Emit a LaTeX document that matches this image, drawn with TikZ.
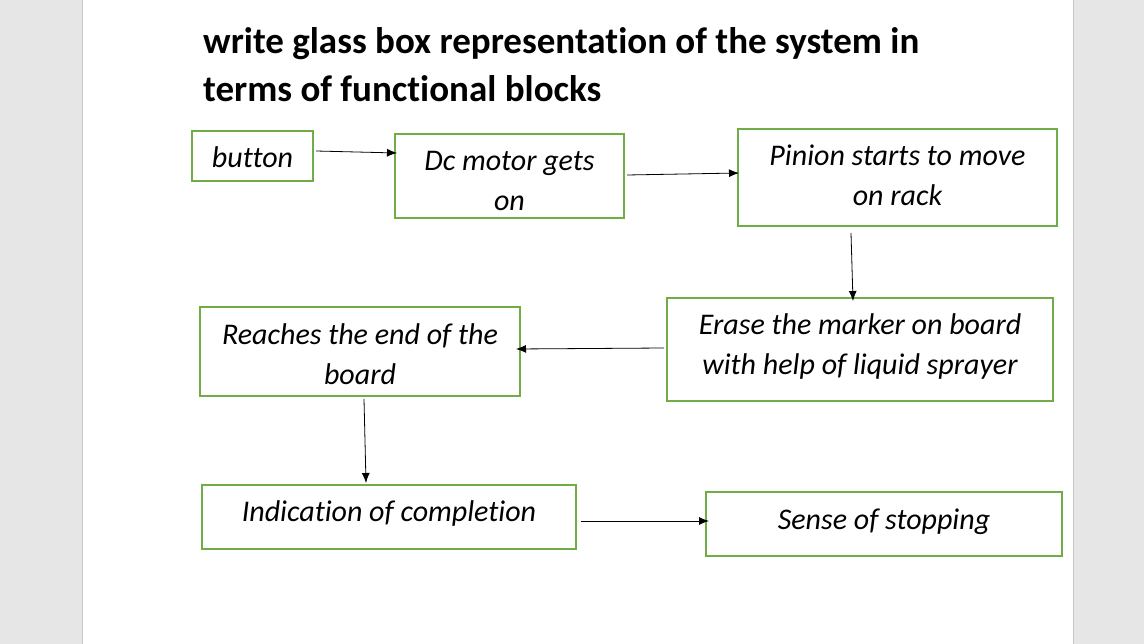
\documentclass[tikz,border=0pt]{standalone}
\usepackage{fontspec}
\setmainfont[Ligatures=NoCommon]{Carlito}
\usetikzlibrary{arrows.meta}
\definecolor{boxgreen}{HTML}{70AD47}
\definecolor{pagegray}{HTML}{E6E6E6}
\definecolor{edgegray}{HTML}{C6C6C6}
\begin{document}
\begin{tikzpicture}[x=1pt,y=-1pt,
  fbox/.style={draw=boxgreen,line width=2pt,inner sep=0pt},
  ftxt/.style={inner sep=0pt,align=center,font=\fontsize{30}{40}\selectfont\itshape},
  arr/.style={-{Latex[length=10pt,width=8pt]},line width=0.8pt,black},
  ttl/.style={anchor=base west,inner sep=0pt,font=\fontsize{37}{44}\selectfont\bfseries}]
\useasboundingbox (0,0) rectangle (1144,644);
\fill[pagegray] (0,0) rectangle (1144,644);
\fill[white] (82,0) rectangle (1073,644);
\draw[edgegray,line width=1pt] (82,0) -- (82,644) (1073,0) -- (1073,644);
% title
\node[ttl] (t1) at (203,54) {write glass box representation of the system in};
\node[ttl] (t2) at (203,102) {terms of functional blocks};
% boxes
\node[fbox,minimum width=121pt,minimum height=50pt] (btn) at (252.5,156) {};
\node[ftxt] (btnT) at (252.5,157) {button};
\node[fbox,minimum width=229pt,minimum height=84pt] (dc) at (509.5,176) {};
\node[ftxt] (dcT) at (509.5,181) {Dc motor gets\\on};
\node[fbox,minimum width=319pt,minimum height=97pt] (pin) at (897.5,177.5) {};
\node[ftxt] (pinT) at (897.5,175.5) {Pinion starts to move\\on rack};
\node[fbox,minimum width=386pt,minimum height=103pt] (er) at (860,349.5) {};
\node[ftxt] (erT) at (860,346.5) {Erase the marker on board\\with help of liquid sprayer};
\node[fbox,minimum width=320pt,minimum height=89pt] (re) at (360,351.5) {};
\node[ftxt] (reT) at (360,354.5) {Reaches the end of the\\board};
\node[fbox,minimum width=374pt,minimum height=64pt] (ind) at (389,517) {};
\node[ftxt] (indT) at (389,514) {Indication of completion};
\node[fbox,minimum width=356pt,minimum height=64pt] (sen) at (884,524) {};
\node[ftxt] (senT) at (884,522) {Sense of stopping};
% connector end points
\coordinate (a1) at (316,151); \coordinate (b1) at (397,153);
\coordinate (a2) at (627,175); \coordinate (b2) at (739,173);
\coordinate (a3) at (851,233); \coordinate (b3) at (853,301);
\coordinate (a4) at (664,348); \coordinate (b4) at (516,349);
\coordinate (a5) at (364,399); \coordinate (b5) at (366,483);
\coordinate (a6) at (581,521); \coordinate (b6) at (709,521);
\draw[arr] (a1) -- (b1);
\draw[arr] (a2) -- (b2);
\draw[arr] (a3) -- (b3);
\draw[arr] (a4) -- (b4);
\draw[arr] (a5) -- (b5);
\draw[arr] (a6) -- (b6);
\end{tikzpicture}
\end{document}
